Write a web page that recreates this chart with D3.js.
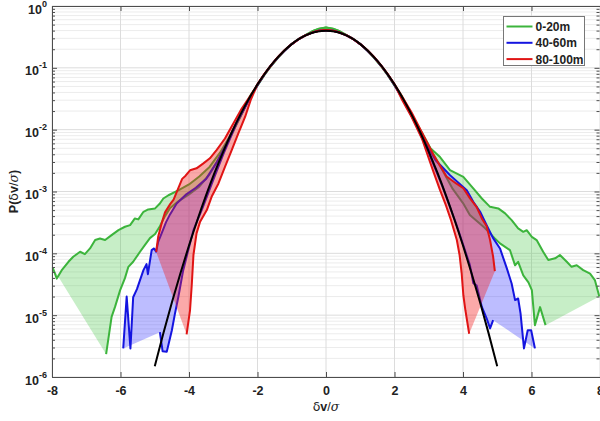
<!DOCTYPE html>
<html>
<head>
<meta charset="utf-8">
<script src="https://cdn.jsdelivr.net/npm/d3@7"></script>
<style>
  body { margin: 0; background: #fff; }
  svg { font-family: "Liberation Sans", Arial, sans-serif; }
</style>
</head>
<body>
<svg id="chart" width="600" height="421"></svg>
<script>
// ---- data ----
const xTicks = [-8, -6, -4, -2, 0, 2, 4, 6, 8];
const yExponents = [0, -1, -2, -3, -4, -5, -6];
const seriesNames = ["0-20m", "40-60m", "80-100m"];

// shared core of the pdfs
const centerX = [-2.0, -1.8, -1.6, -1.4, -1.2, -1.0, -0.8, -0.6, -0.4, -0.2, 0,
                 0.2, 0.4, 0.6, 0.8, 1.0, 1.2, 1.4, 1.6, 1.8, 2.0];
const greenCenter = [0.052, 0.077, 0.108, 0.147, 0.193, 0.243, 0.292, 0.338, 0.39, 0.43, 0.45,
                     0.43, 0.39, 0.338, 0.292, 0.243, 0.193, 0.147, 0.108, 0.077, 0.052];
const blueCenter = [0.053, 0.078, 0.110, 0.149, 0.193, 0.242, 0.290, 0.335, 0.372, 0.397, 0.405,
                    0.397, 0.372, 0.335, 0.290, 0.242, 0.193, 0.149, 0.110, 0.078, 0.053];
const redCenter = [0.054, 0.079, 0.111, 0.150, 0.194, 0.242, 0.290, 0.335, 0.372, 0.398, 0.41,
                   0.398, 0.372, 0.335, 0.290, 0.242, 0.194, 0.150, 0.111, 0.079, 0.054];

// tails: [dv/sigma, P]
const greenOuterLeft = [[-7.98, 5.9e-5], [-7.86, 3.9e-5], [-7.72, 5.3e-5], [-7.52, 7.3e-5], [-7.38, 8.8e-5],
  [-7.18, 1.06e-4], [-7.04, 9.7e-5], [-6.89, 1.2e-4], [-6.74, 1.64e-4], [-6.60, 1.74e-4], [-6.45, 1.64e-4],
  [-6.26, 1.97e-4], [-6.06, 2.37e-4], [-5.87, 2.69e-4], [-5.72, 2.86e-4], [-5.58, 3.67e-4], [-5.48, 3.54e-4],
  [-5.33, 4.7e-4], [-5.19, 5.13e-4], [-4.99, 5.33e-4], [-4.85, 6.4e-4], [-4.75, 7.7e-4], [-4.60, 8.7e-4],
  [-4.30, 1.05e-3], [-4.00, 1.3e-3], [-3.70, 1.75e-3], [-3.40, 2.5e-3], [-3.10, 4.2e-3], [-2.80, 8.0e-3],
  [-2.50, 0.0165], [-2.20, 0.036]];
const greenOuterRight = [[2.2, 0.036], [2.5, 0.0175], [2.8, 9.0e-3], [3.05, 5.0e-3], [3.33, 3.6e-3],
  [3.62, 2.22e-3], [4.01, 1.73e-3], [4.30, 1.12e-3], [4.55, 7.7e-4], [4.79, 5.65e-4], [5.03, 5.33e-4],
  [5.23, 4.42e-4], [5.42, 3.44e-4], [5.61, 2.53e-4], [5.76, 2.23e-4], [5.86, 2.37e-4], [6.01, 1.85e-4],
  [6.15, 1.64e-4], [6.34, 1.06e-4], [6.49, 7.8e-5], [6.69, 8.3e-5], [6.83, 9.4e-5], [7.03, 7.3e-5],
  [7.17, 6.05e-5], [7.32, 6.4e-5], [7.51, 5.35e-5], [7.71, 4.7e-5], [7.85, 3.7e-5], [7.98, 2.0e-5]];
const greenInnerLeft = [[-6.42, 2.34e-6], [-6.26, 9.4e-6], [-6.16, 1.36e-5], [-6.01, 2.54e-5], [-5.87, 3.97e-5],
  [-5.77, 6.05e-5], [-5.63, 7.3e-5], [-5.43, 1.06e-4], [-5.29, 1.36e-4], [-5.14, 1.76e-4], [-4.99, 2.05e-4],
  [-4.85, 2.75e-4], [-4.70, 4.0e-4], [-4.55, 5.4e-4], [-4.30, 7.0e-4], [-4.00, 9.0e-4], [-3.70, 1.2e-3],
  [-3.40, 1.9e-3], [-3.10, 3.6e-3], [-2.80, 7.5e-3], [-2.50, 0.016], [-2.20, 0.036]];
const greenInnerRight = [[2.2, 0.035], [2.5, 0.0165], [2.8, 8.5e-3], [3.1, 4.3e-3], [3.4, 2.2e-3],
  [3.7, 1.1e-3], [4.0, 6.5e-4], [4.2, 4.15e-4], [4.64, 2.56e-4], [4.93, 1.74e-4], [5.08, 1.45e-4],
  [5.37, 1.13e-4], [5.52, 6.4e-5], [5.61, 7.3e-5], [5.76, 4.4e-5], [5.91, 3.4e-5], [6.01, 2.54e-5],
  [6.10, 6.9e-6], [6.25, 1.35e-5], [6.41, 6.9e-6]];

const blueOuterLeft = [[-5.92, 2.9e-6], [-5.82, 2.0e-5], [-5.71, 2.9e-6], [-5.63, 1.95e-5], [-5.52, 2.64e-5],
  [-5.33, 5.35e-5], [-5.24, 6.7e-5], [-5.20, 4.6e-5], [-5.09, 1.13e-4], [-5.02, 1.2e-4], [-4.96, 1.06e-4],
  [-4.90, 1.53e-4], [-4.80, 2.1e-4], [-4.67, 3.2e-4], [-4.55, 4.3e-4], [-4.36, 6.4e-4], [-4.10, 8.8e-4],
  [-3.80, 1.15e-3], [-3.50, 1.6e-3], [-3.20, 2.9e-3], [-2.90, 6.0e-3], [-2.60, 0.0136], [-2.20, 0.034]];
const blueOuterRight = [[2.2, 0.034], [2.6, 0.0135], [2.9, 6.2e-3], [3.2, 3.2e-3], [3.42, 2.4e-3],
  [3.62, 1.84e-3], [4.11, 1.05e-3], [4.30, 6.8e-4], [4.50, 4.7e-4], [4.69, 2.86e-4], [4.88, 1.76e-4],
  [5.08, 1.2e-4], [5.28, 5.7e-5], [5.42, 3.26e-5], [5.52, 1.75e-5], [5.61, 1.86e-5], [5.68, 1.07e-5],
  [5.78, 2.9e-6], [5.89, 5.7e-6], [5.99, 5.7e-6], [6.10, 2.9e-6]];
const blueInnerLeft = [[-4.85, 5.3e-6], [-4.77, 2.6e-6], [-4.65, 2.55e-6], [-4.50, 5.7e-6], [-4.41, 1.06e-5],
  [-4.31, 1.98e-5], [-4.17, 5.3e-5], [-4.02, 1.13e-4], [-3.87, 2.37e-4], [-3.60, 5.5e-4], [-3.30, 1.5e-3],
  [-3.00, 4.0e-3], [-2.60, 0.013], [-2.20, 0.034]];
const blueInnerRight = [[2.2, 0.034], [2.6, 0.013], [3.0, 4.2e-3], [3.4, 1.2e-3], [3.8, 3.0e-4],
  [4.0, 1.4e-4], [4.2, 6.5e-5], [4.30, 3.3e-5], [4.40, 3.0e-5], [4.55, 1.36e-5], [4.69, 8.9e-6],
  [4.79, 6.1e-6], [4.88, 8.3e-6]];

const redOuterLeft = [[-4.96, 1.06e-4], [-4.90, 1.85e-4], [-4.80, 3.05e-4], [-4.70, 4.6e-4], [-4.55, 6.25e-4],
  [-4.45, 7.4e-4], [-4.20, 1.6e-3], [-4.10, 1.8e-3], [-3.97, 2.2e-3], [-3.78, 2.37e-3], [-3.58, 2.85e-3],
  [-3.39, 3.44e-3], [-3.19, 4.7e-3], [-2.95, 7.2e-3], [-2.71, 0.0125], [-2.46, 0.022], [-2.20, 0.036]];
const redOuterRight = [[2.2, 0.036], [2.5, 0.019], [2.74, 0.0105], [3.13, 4.0e-3], [3.52, 1.75e-3],
  [3.8, 1.35e-3], [4.01, 1.13e-3], [4.20, 7.8e-4], [4.40, 5.6e-4], [4.55, 3.67e-4], [4.69, 2.75e-4],
  [4.79, 1.64e-4], [4.88, 8.8e-5], [4.93, 5.15e-5]];
const redInnerLeft = [[-4.07, 4.9e-6], [-3.97, 1.2e-5], [-3.92, 3.05e-5], [-3.87, 9.4e-5], [-3.78, 2.1e-4],
  [-3.68, 3.2e-4], [-3.48, 5.0e-4], [-3.34, 8.2e-4], [-3.14, 1.35e-3], [-2.95, 2.5e-3], [-2.75, 4.7e-3],
  [-2.56, 8.7e-3], [-2.36, 0.0162], [-2.20, 0.030]];
const redInnerRight = [[2.2, 0.032], [2.5, 0.016], [2.8, 7.2e-3], [3.12, 2.22e-3], [3.33, 1.05e-3],
  [3.50, 6.0e-4], [3.65, 3.44e-4], [3.82, 1.64e-4], [3.90, 9.4e-5], [3.96, 4.8e-5], [4.01, 2.1e-5],
  [4.07, 1.2e-5], [4.18, 5.0e-6]];

// reference gaussian (black)
const gaussX = [-5, -4.75, -4.5, -4.25, -4, -3.75, -3.5, -3.25, -3, -2.75, -2.5, -2.25, -2, -1.75, -1.5,
  -1.25, -1, -0.75, -0.5, -0.25, 0, 0.25, 0.5, 0.75, 1, 1.25, 1.5, 1.75, 2, 2.25, 2.5, 2.75, 3, 3.25,
  3.5, 3.75, 4, 4.25, 4.5, 4.75, 5];
const gaussP = [1.49e-6, 5.03e-6, 1.6e-5, 4.77e-5, 1.34e-4, 3.53e-4, 8.73e-4, 2.03e-3, 4.43e-3, 9.09e-3,
  0.0175, 0.0317, 0.054, 0.0863, 0.1295, 0.1826, 0.242, 0.3011, 0.3521, 0.3867, 0.3989, 0.3867, 0.3521,
  0.3011, 0.242, 0.1826, 0.1295, 0.0863, 0.054, 0.0317, 0.0175, 9.09e-3, 4.43e-3, 2.03e-3, 8.73e-4,
  3.53e-4, 1.34e-4, 4.77e-5, 1.6e-5, 5.03e-6, 1.49e-6];

// ---- layout ----
const svg = d3.select("#chart");
const m = {left: 52, right: 600, top: 6, bottom: 377};
const x = d3.scaleLinear().domain([-8, 8]).range([m.left, m.right]);
const y = d3.scaleLog().domain([1e-6, 1]).range([m.bottom, m.top]);

const colors = {
  green: {line: "#3cb43c", fill: "rgba(70,200,70,0.30)"},
  blue: {line: "#1414e0", fill: "rgba(50,50,255,0.32)"},
  red: {line: "#e01414", fill: "rgba(245,30,30,0.38)"}
};

// grid
const grid = svg.append("g");
const minorVals = [];
yExponents.slice(1).forEach(k => { for (let i = 2; i <= 9; i++) minorVals.push(i * Math.pow(10, k)); });
grid.selectAll(".minor").data(minorVals).join("line")
  .attr("x1", m.left).attr("x2", m.right)
  .attr("y1", d => y(d)).attr("y2", d => y(d))
  .attr("stroke", "#ececec").attr("stroke-width", 1);
grid.selectAll(".hmaj").data(yExponents.map(k => Math.pow(10, k))).join("line")
  .attr("x1", m.left).attr("x2", m.right)
  .attr("y1", d => y(d)).attr("y2", d => y(d))
  .attr("stroke", "#dcdcdc").attr("stroke-width", 1);
grid.selectAll(".vmaj").data(xTicks).join("line")
  .attr("x1", d => x(d)).attr("x2", d => x(d))
  .attr("y1", m.top).attr("y2", m.bottom)
  .attr("stroke", "#dcdcdc").attr("stroke-width", 1);

// curves
const line = d3.line().x(d => x(d[0])).y(d => y(d[1]));
const withCenter = (l, c, r) => l.concat(centerX.map((v, i) => [v, c[i]]), r);

const series = [
  {c: colors.green, outer: withCenter(greenOuterLeft, greenCenter, greenOuterRight),
   inner: withCenter(greenInnerLeft, greenCenter, greenInnerRight)},
  {c: colors.blue, outer: withCenter(blueOuterLeft, blueCenter, blueOuterRight),
   inner: withCenter(blueInnerLeft, blueCenter, blueInnerRight)},
  {c: colors.red, outer: withCenter(redOuterLeft, redCenter, redOuterRight),
   inner: withCenter(redInnerLeft, redCenter, redInnerRight)}
];

const plot = svg.append("g");
series.forEach(s => {
  const poly = s.outer.concat(s.inner.slice().reverse());
  plot.append("path").attr("d", line(poly) + "Z")
    .attr("fill", s.c.fill).attr("stroke", "none");
  [s.outer, s.inner].forEach(curve => {
    plot.append("path").attr("d", line(curve))
      .attr("fill", "none").attr("stroke", s.c.line)
      .attr("stroke-width", 2).attr("stroke-linejoin", "round");
  });
});

plot.append("path")
  .attr("d", d3.line().curve(d3.curveMonotoneX).x(d => x(d)).y((d, i) => y(gaussP[i]))(gaussX))
  .attr("fill", "none").attr("stroke", "#000").attr("stroke-width", 2);

// axes (MATLAB style box, ticks inward)
const axisColor = "#4d4d4d";
const majorY = yExponents.map(k => Math.pow(10, k));
const gx = svg.append("g").attr("transform", `translate(0,${m.bottom})`)
  .call(d3.axisBottom(x).tickValues(xTicks).tickSize(-5).tickPadding(9));
const gxTop = svg.append("g").attr("transform", `translate(0,${m.top})`)
  .call(d3.axisTop(x).tickValues(xTicks).tickSize(-5).tickFormat(""));
const gy = svg.append("g").attr("transform", `translate(${m.left},0)`)
  .call(d3.axisLeft(y).tickValues(majorY).tickSize(-5).tickFormat(""));
const gyMinor = svg.append("g").attr("transform", `translate(${m.left},0)`)
  .call(d3.axisLeft(y).tickValues(minorVals).tickSize(-3).tickFormat(""));
const gyR = svg.append("g").attr("transform", `translate(${m.right - 0.5},0)`)
  .call(d3.axisRight(y).tickValues(majorY).tickSize(-5).tickFormat(""));
const gyRMinor = svg.append("g").attr("transform", `translate(${m.right - 0.5},0)`)
  .call(d3.axisRight(y).tickValues(minorVals).tickSize(-3).tickFormat(""));

[gx, gxTop, gy, gyMinor, gyR, gyRMinor].forEach(g => {
  g.select(".domain").remove();
  g.selectAll(".tick line").attr("stroke", axisColor);
});
gx.selectAll(".tick text").attr("font-size", 12.5).attr("font-weight", "bold").attr("fill", "#222")
  .attr("font-family", "Liberation Sans, Arial, sans-serif")
  .text(d => d < 0 ? "-" + Math.abs(d) : d);

svg.append("rect").attr("x", m.left + 0.5).attr("y", m.top + 0.5)
  .attr("width", m.right - m.left).attr("height", m.bottom - m.top)
  .attr("fill", "none").attr("stroke", axisColor).attr("stroke-width", 1);

// y tick labels 10^k
const ylab = svg.append("g").attr("font-weight", "bold").attr("fill", "#222");
yExponents.forEach(k => {
  const t = ylab.append("text").attr("x", 47).attr("y", y(Math.pow(10, k)) + 7.5)
    .attr("text-anchor", "end").attr("font-size", 12.5);
  t.append("tspan").text("10");
  t.append("tspan").attr("dy", -7).attr("font-size", 9).text(String(k));
});

// axis titles
const xt = svg.append("text").attr("x", 326).attr("y", 411).attr("text-anchor", "middle")
  .attr("font-size", 12.5).attr("fill", "#222");
xt.append("tspan").attr("font-family", "DejaVu Sans").text("δ");
xt.append("tspan").attr("font-weight", "bold").text("v");
xt.append("tspan").text("/");
xt.append("tspan").attr("font-style", "italic").attr("font-family", "DejaVu Serif").text("σ");

const yt = svg.append("text").attr("transform", `translate(18,${(m.top + m.bottom) / 2}) rotate(-90)`)
  .attr("text-anchor", "middle").attr("font-size", 12.5).attr("fill", "#222");
yt.append("tspan").attr("font-weight", "bold").text("P(");
yt.append("tspan").attr("font-family", "DejaVu Sans").text("δ");
yt.append("tspan").attr("font-weight", "bold").text("v");
yt.append("tspan").text("/");
yt.append("tspan").attr("font-style", "italic").attr("font-family", "DejaVu Serif").text("σ");
yt.append("tspan").attr("font-weight", "bold").text(")");

// legend
const lg = svg.append("g").attr("transform", "translate(503.5,16.5)");
lg.append("rect").attr("width", 81).attr("height", 49).attr("fill", "#fff").attr("stroke", "#777");
const legendColors = [colors.green.line, colors.blue.line, colors.red.line];
seriesNames.forEach((name, i) => {
  const yy = 10 + i * 16.3;
  lg.append("line").attr("x1", 3).attr("x2", 29).attr("y1", yy).attr("y2", yy)
    .attr("stroke", legendColors[i]).attr("stroke-width", 2);
  lg.append("text").attr("x", 32).attr("y", yy + 4.5).attr("font-size", 12)
    .attr("font-weight", "bold").attr("fill", "#222").text(name);
});
</script>
</body>
</html>
